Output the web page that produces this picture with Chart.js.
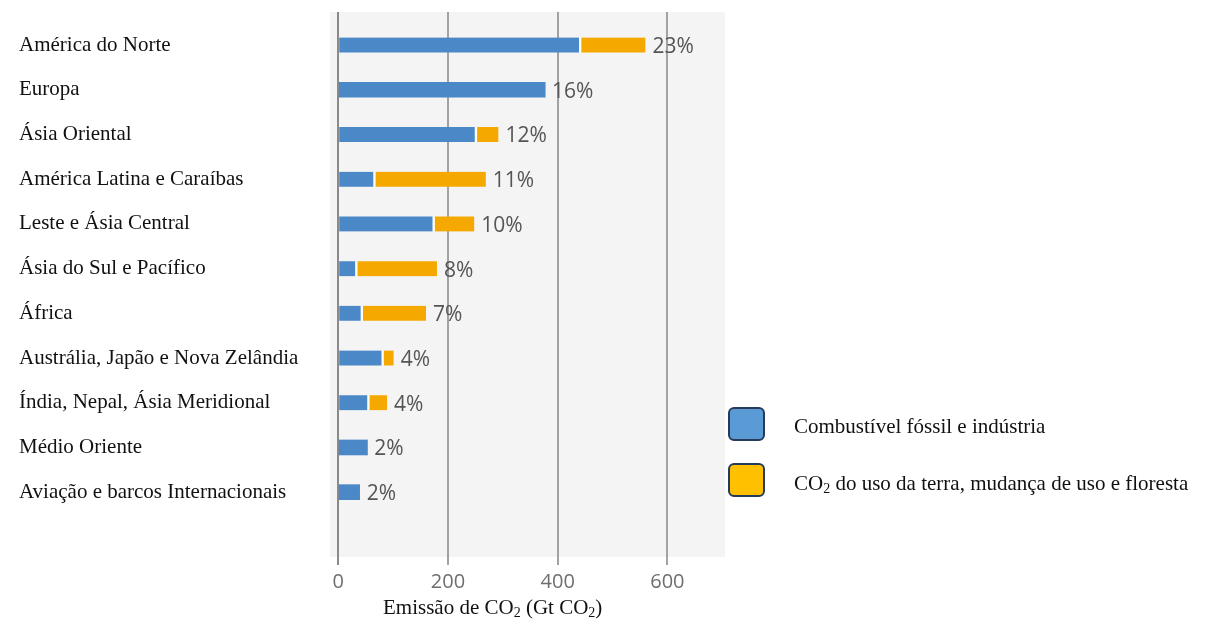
<!DOCTYPE html>
<html lang="pt">
<head>
<meta charset="utf-8">
<title>Emissão de CO2 por região</title>
<script src="https://cdn.jsdelivr.net/npm/chart.js@4/dist/chart.umd.min.js"></script>
<style>
  html, body { margin: 0; padding: 0; background: #ffffff; }
  #wrap { position: relative; width: 1208px; height: 619px; overflow: hidden; }
  #chart { position: absolute; left: 0; top: 0; }
  .serif { font-family: "Liberation Serif", "Times New Roman", serif; font-size: 21px; line-height: 21px; color: #111; white-space: nowrap; }
  .serif sub { font-size: 14px; line-height: 0; vertical-align: -3px; }
  #axisTitle { position: absolute; left: 383px; top: 597px; }
  .legBox { position: absolute; left: 728px; width: 37px; height: 34px; box-sizing: border-box;
            border: 2.5px solid #243b5c; border-radius: 6px; }
  .legText { position: absolute; left: 794px; }
</style>
</head>
<body>
<div id="wrap">
  <canvas id="chart" width="1208" height="619"></canvas>
  <div id="axisTitle" class="serif">Emissão de CO<sub>2</sub> (Gt CO<sub>2</sub>)</div>
  <div id="legend"></div>
</div>
<script>
// Regions, top to bottom
const categories = [
  'América do Norte',
  'Europa',
  'Ásia Oriental',
  'América Latina e Caraíbas',
  'Leste e Ásia Central',
  'Ásia do Sul e Pacífico',
  'África',
  'Austrália, Japão e Nova Zelândia',
  'Índia, Nepal, Ásia Meridional',
  'Médio Oriente',
  'Aviação e barcos Internacionais'
];

// Cumulative emissions, Gt CO2
const fossilIndustry = [441, 377, 251, 66, 174, 33, 43, 81, 55, 53, 39];
const landUse        = [119,   0,  41, 203, 74, 147, 117, 20, 34,  0,  0];

// Share of the global total, %
const shares = [23, 16, 12, 11, 10, 8, 7, 4, 4, 2, 2];

// Value axis tick labels
const xTicks = [0, 200, 400, 600];

const seriesNames = ['Combustível fóssil e indústria', 'CO₂ do uso da terra, mudança de uso e floresta'];
const barColors = ['#4a88c7', '#f5a900'];
const legendColors = ['#5b9bd5', '#ffc000'];

const PAD_LEFT = 19;

// Light plot background behind the bars
const plotBackground = {
  id: 'plotBackground',
  beforeDraw(chart) {
    const { ctx, chartArea: a } = chart;
    ctx.save();
    ctx.fillStyle = '#f4f4f4';
    ctx.fillRect(a.left, a.top, a.right - a.left, a.bottom - a.top);
    ctx.restore();
  }
};

// Percentage written after the end of each stacked bar
const shareLabels = {
  id: 'shareLabels',
  afterDatasetsDraw(chart) {
    const { ctx } = chart;
    const last = chart.getDatasetMeta(chart.data.datasets.length - 1);
    ctx.save();
    ctx.font = '21px "Open Sans", "DejaVu Sans", sans-serif';
    ctx.fillStyle = '#555555';
    ctx.textAlign = 'left';
    ctx.textBaseline = 'middle';
    last.data.forEach((bar, i) => {
      ctx.fillText(shares[i] + '%', bar.x + 7, bar.y + 2);
    });
    ctx.restore();
  }
};

// Thin light seam between the two stacked segments
const seam = 'rgba(255,255,255,0.8)';

const chart = new Chart(document.getElementById('chart'), {
  type: 'bar',
  data: {
    datasets: [
      {
        label: seriesNames[0],
        data: fossilIndustry.map((v, i) => ({ x: v, y: i })),
        backgroundColor: barColors[0],
        borderColor: seam,
        borderSkipped: false,
        borderWidth: ctx => (landUse[ctx.dataIndex] ? { left: 0, right: 1.5, top: 0, bottom: 0 } : 0),
        barThickness: 15
      },
      {
        label: seriesNames[1],
        data: landUse.map((v, i) => ({ x: v, y: i })),
        backgroundColor: barColors[1],
        borderColor: seam,
        borderSkipped: false,
        borderWidth: ctx => (landUse[ctx.dataIndex] ? { left: 1.5, right: 0, top: 0, bottom: 0 } : 0),
        barThickness: 15
      }
    ]
  },
  options: {
    indexAxis: 'y',
    responsive: false,
    animation: false,
    layout: { padding: { left: PAD_LEFT, right: 483, top: 12, bottom: 0 } },
    plugins: {
      legend: { display: false },
      tooltip: { enabled: false }
    },
    scales: {
      x: {
        type: 'linear',
        stacked: true,
        bounds: 'data',
        min: -15,
        max: 705,
        afterBuildTicks(scale) { scale.ticks = xTicks.map(v => ({ value: v })); },
        afterFit(scale) { scale.height = 62; scale.paddingLeft = 0; scale.paddingRight = 0; },
        grid: {
          color: ctx => (ctx.tick && ctx.tick.value === 0 ? '#8a8a8a' : '#a2a2a2'),
          lineWidth: 2,
          tickLength: 8
        },
        border: { display: false },
        ticks: {
          padding: 5,
          color: '#6e6e6e',
          font: { family: '"Open Sans", "DejaVu Sans", sans-serif', size: 20 }
        }
      },
      y: {
        type: 'linear',
        stacked: true,
        reverse: true,
        offset: false,
        bounds: 'data',
        min: -0.74,
        max: 11.45,
        afterBuildTicks(scale) { scale.ticks = categories.map((_, i) => ({ value: i })); },
        afterFit(scale) { scale.width = 330 - PAD_LEFT; scale.paddingTop = 0; scale.paddingBottom = 0; },
        grid: { display: false, offset: false },
        border: { display: false },
        ticks: {
          autoSkip: false,
          crossAlign: 'far',
          color: '#111111',
          font: { family: '"Liberation Serif", "Times New Roman", serif', size: 21 },
          callback: v => categories[v] ?? ''
        }
      }
    }
  },
  plugins: [plotBackground, shareLabels]
});

// Legend built from the chart's datasets
const legendEl = document.getElementById('legend');
chart.data.datasets.forEach((ds, i) => {
  const box = document.createElement('div');
  box.className = 'legBox';
  box.style.top = (407 + i * 56) + 'px';
  box.style.background = legendColors[i];
  const txt = document.createElement('div');
  txt.className = 'legText serif';
  txt.style.top = (416 + i * 57) + 'px';
  txt.innerHTML = ds.label.replace('₂', '<sub>2</sub>');
  legendEl.appendChild(box);
  legendEl.appendChild(txt);
});
</script>
</body>
</html>
